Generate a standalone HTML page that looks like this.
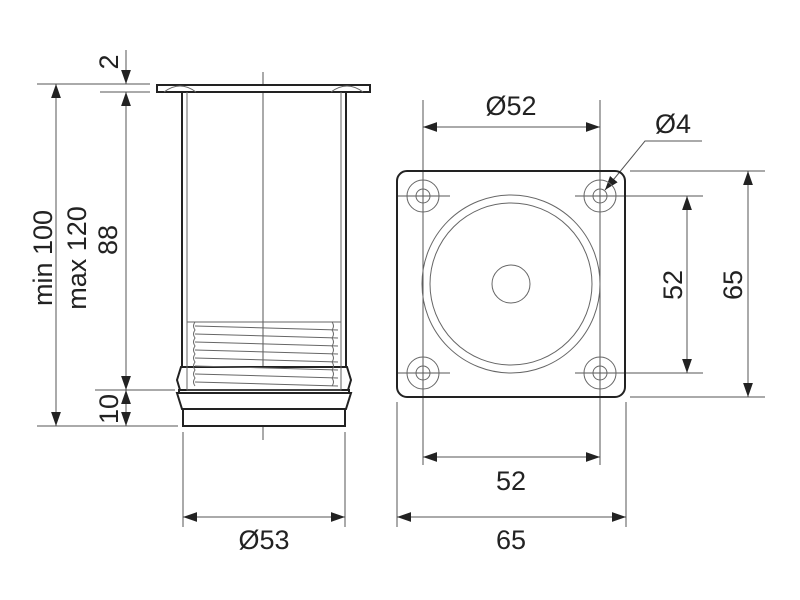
<!DOCTYPE html>
<html><head><meta charset="utf-8"><style>
html,body{margin:0;padding:0;background:#fff;}
svg{display:block;}
text{font-family:"Liberation Sans",Arial,sans-serif;font-size:27px;fill:#222;}
</style></head><body>
<svg width="800" height="600" viewBox="0 0 800 600" xmlns="http://www.w3.org/2000/svg">
<defs>
<marker id="a" viewBox="0 0 10 10" refX="10" refY="5" markerWidth="14" markerHeight="14" markerUnits="userSpaceOnUse" orient="auto-start-reverse"><path d="M0,1.5 L10,5 L0,8.5 z" fill="#222"/></marker>
</defs>
<g stroke="#555" stroke-width="1" fill="none">
<!-- left extension lines -->
<line x1="37" y1="84" x2="150" y2="84"/>
<line x1="100" y1="92" x2="150" y2="92"/>
<line x1="95" y1="390" x2="175" y2="390"/>
<line x1="37" y1="426" x2="178" y2="426"/>
<!-- side view centerline -->
<line x1="263" y1="72" x2="263" y2="440"/>
<!-- bottom ext lines -->
<line x1="183" y1="432" x2="183" y2="527"/>
<line x1="345" y1="432" x2="345" y2="527"/>
<line x1="397" y1="402" x2="397" y2="527"/>
<line x1="626" y1="402" x2="626" y2="527"/>
<line x1="423" y1="100" x2="423" y2="465"/>
<line x1="600" y1="100" x2="600" y2="465"/>
<line x1="398" y1="196" x2="450" y2="196"/>
<line x1="398" y1="373" x2="450" y2="373"/>
<line x1="575" y1="196" x2="703" y2="196"/>
<line x1="575" y1="373" x2="703" y2="373"/>
<line x1="630" y1="171" x2="765" y2="171"/>
<line x1="630" y1="397" x2="765" y2="397"/>
<!-- dimension lines -->
<line x1="56" y1="84" x2="56" y2="426" marker-start="url(#a)" marker-end="url(#a)"/>
<line x1="126" y1="92" x2="126" y2="390" marker-start="url(#a)" marker-end="url(#a)"/>
<line x1="126" y1="50" x2="126" y2="84" marker-end="url(#a)"/>
<line x1="126" y1="390" x2="126" y2="426" marker-start="url(#a)" marker-end="url(#a)"/>
<line x1="183" y1="517" x2="345" y2="517" marker-start="url(#a)" marker-end="url(#a)"/>
<line x1="397" y1="517" x2="626" y2="517" marker-start="url(#a)" marker-end="url(#a)"/>
<line x1="423" y1="457" x2="600" y2="457" marker-start="url(#a)" marker-end="url(#a)"/>
<line x1="423" y1="127" x2="600" y2="127" marker-start="url(#a)" marker-end="url(#a)"/>
<line x1="687" y1="196" x2="687" y2="373" marker-start="url(#a)" marker-end="url(#a)"/>
<line x1="748" y1="171" x2="748" y2="397" marker-start="url(#a)" marker-end="url(#a)"/>
<polyline points="702,141 645,141 605,190" marker-end="url(#a)"/>
</g>
<!-- side view -->
<g stroke="#222" stroke-width="2" fill="#fff">
<rect x="157" y="85" width="213" height="7"/>
<line x1="182" y1="92" x2="182" y2="367"/>
<line x1="346" y1="92" x2="346" y2="367"/>
<path d="M181,367 L347,367 L351,380 L348,390 L180,390 L177,380 Z"/>
<rect x="179" y="390" width="170" height="3"/>
<path d="M177,393 L351,393 L346,409 L182,409 Z"/>
<rect x="183" y="409" width="162" height="17"/>
</g>
<g stroke="#666" stroke-width="1" fill="none">
<line x1="187" y1="92" x2="187" y2="367"/>
<line x1="341" y1="92" x2="341" y2="367"/>
<path d="M164,92 Q180,80 196,92 M331,92 Q347,80 363,92"/>
<rect x="187" y="322" width="154" height="68"/>
<path d="M195,326 L338,330 M195,334 L338,338 M195,342 L338,346 M195,350 L338,354 M195,358 L338,362 M195,366 L338,370 M195,374 L338,378 M195,382 L338,386"/>
<path d="M195,322 q-3,4 0,8 q-3,4 0,8 q-3,4 0,8 q-3,4 0,8 q-3,4 0,8 q-3,4 0,8 q-3,4 0,8 q-3,4 0,8"/>
<path d="M332,322 q3,4 0,8 q3,4 0,8 q3,4 0,8 q3,4 0,8 q3,4 0,8 q3,4 0,8 q3,4 0,8 q3,4 0,8"/>
</g>
<!-- top view -->
<rect x="397" y="171" width="228" height="226" rx="10" fill="none" stroke="#222" stroke-width="2"/>
<g stroke="#666" stroke-width="1" fill="none">
<circle cx="511" cy="284" r="89"/>
<circle cx="511" cy="284" r="81"/>
<circle cx="511" cy="284" r="19"/>
<circle cx="423" cy="196" r="16"/><circle cx="423" cy="196" r="7"/>
<circle cx="600" cy="196" r="16"/><circle cx="600" cy="196" r="7"/>
<circle cx="423" cy="373" r="16"/><circle cx="423" cy="373" r="7"/>
<circle cx="600" cy="373" r="16"/><circle cx="600" cy="373" r="7"/>
</g>
<!-- labels -->
<text transform="translate(52,258) rotate(-90)" text-anchor="middle">min 100</text>
<text transform="translate(86,258) rotate(-90)" text-anchor="middle">max 120</text>
<text transform="translate(117,240) rotate(-90)" text-anchor="middle">88</text>
<text transform="translate(118,62) rotate(-90)" text-anchor="middle">2</text>
<text transform="translate(118,409) rotate(-90)" text-anchor="middle">10</text>
<text x="264" y="549" text-anchor="middle">Ø53</text>
<text x="511" y="549" text-anchor="middle">65</text>
<text x="511" y="490" text-anchor="middle">52</text>
<text x="511" y="115" text-anchor="middle">Ø52</text>
<text x="673" y="133" text-anchor="middle">Ø4</text>
<text transform="translate(682,285) rotate(-90)" text-anchor="middle">52</text>
<text transform="translate(742,285) rotate(-90)" text-anchor="middle">65</text>
</svg>
</body></html>
